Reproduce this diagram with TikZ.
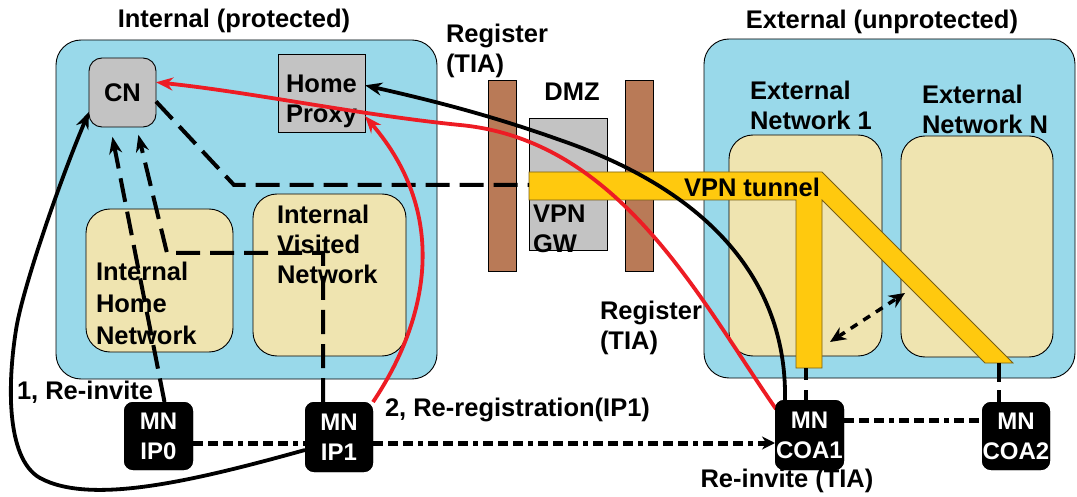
\documentclass[tikz,border=0pt]{standalone}
\usepackage{fontspec}
\setmainfont{Liberation Sans}
\usetikzlibrary{arrows.meta}

\definecolor{zoneblue}{RGB}{153,217,234}
\definecolor{netbeige}{RGB}{239,228,176}
\definecolor{wallbrown}{RGB}{185,122,87}
\definecolor{boxgray}{RGB}{195,195,195}
\definecolor{tunnelgold}{RGB}{255,201,14}
\definecolor{tunneledge}{RGB}{120,95,20}
\definecolor{sigred}{RGB}{237,28,36}

\begin{document}
\begin{tikzpicture}[x=1pt,y=-1pt,
  every node/.style={inner sep=0pt, outer sep=0pt},
  txt/.style={font=\fontsize{25.5}{30}\selectfont\bfseries, align=left},
  zone/.style={draw=black, line width=0.9pt, fill=zoneblue, rounded corners=25pt},
  net/.style={draw=black, line width=0.9pt, fill=netbeige, rounded corners=24pt},
  wall/.style={draw=black, line width=0.9pt, fill=wallbrown},
  graybox/.style={draw=black, line width=0.9pt, fill=boxgray},
  mn/.style={fill=black, rounded corners=9pt, text=white,
    font=\fontsize{24}{30}\selectfont\bfseries, align=center},
  dashln/.style={line width=4pt, dash pattern=on 24pt off 10pt},
  dotln/.style={line width=5pt,
    dash pattern=on 10pt off 5pt on 10pt off 5pt on 10pt off 5pt on 5pt off 5pt},
  tip/.style={-{Stealth[length=17pt,width=13pt]}},
  sigline/.style={line width=3.8pt},
]
% canvas
\useasboundingbox[fill=white] (0,0) rectangle (1077,497);

% protection zones
\node[zone, minimum width=381pt, minimum height=339pt] (internal) at (246.5,209.5) {};
\node[zone, minimum width=371pt, minimum height=339pt] (external) at (889.5,208.5) {};
\node[txt] (tInt) at (234,21) {Internal (protected)};
\node[txt] (tExt) at (882,22) {External (unprotected)};

% access networks
\node[net, minimum width=147pt, minimum height=143pt] (ihn) at (159.5,280.5) {};
\node[net, minimum width=153pt, minimum height=162pt] (ivn) at (329.5,275) {};
\node[net, minimum width=153pt, minimum height=221pt] (ext1) at (805.5,245.5) {};
\node[net, minimum width=152pt, minimum height=221pt] (extN) at (977,246.5) {};
\node[txt, anchor=west, font=\fontsize{25.5}{32}\selectfont\bfseries] (tIhn) at (96,303) {Internal\\Home\\Network};
\node[txt, anchor=west] (tIvn) at (277,244.5) {Internal\\Visited\\Network};
\node[txt, anchor=west] (tExt1) at (750,105) {External\\Network 1};
\node[txt, anchor=west] (tExtN) at (922,109.5) {External\\Network N};

% servers
\node[graybox, rounded corners=13pt, minimum width=67pt, minimum height=69pt,
  font=\fontsize{25.5}{30}\selectfont\bfseries] (cn) at (122.5,92.5) {CN};
\node[graybox, minimum width=87pt, minimum height=78pt] (hp) at (321.5,93) {};
\node[txt, align=center] (hpt) at (321.5,101) {Home\\Proxy};

% DMZ with its two firewalls and the VPN gateway
\node[wall, minimum width=28pt, minimum height=191pt] (wall1) at (502,175.5) {};
\node[wall, minimum width=28pt, minimum height=191pt] (wall2) at (639,175.5) {};
\node[graybox, minimum width=78pt, minimum height=132pt] (gw) at (568,184) {};
\node[txt, anchor=west] (tGw) at (533,229) {VPN\\GW};
\node[txt] (tDmz) at (572,92) {DMZ};
\node[txt, anchor=west] (tReg1) at (446,51) {Register\\(TIA)};

% VPN tunnel
\filldraw[fill=tunnelgold, draw=tunneledge, line width=0.8pt]
  (529,172) -- (822,172) -- (1013,363) -- (985,363) -- (822,200)
  -- (822,368) -- (796,368) -- (796,200) -- (529,200) -- cycle;
\coordinate (tunL) at (529,185);
\coordinate (tunA) at (806,368);
\coordinate (tunB) at (999,363);

% mobile node instances
\node[mn, minimum width=69pt, minimum height=68pt] (ip0) at (158.5,436) {MN\\IP0};
\node[mn, minimum width=68pt, minimum height=70pt] (ip1) at (339,437) {MN\\IP1};
\node[mn, minimum width=69pt, minimum height=70pt] (coa1) at (809.5,435) {MN\\COA1};
\node[mn, minimum width=68pt, minimum height=68pt] (coa2) at (1016,436) {MN\\COA2};

% media paths towards CN
\draw[dashln] (cn.-15) -- (234,185) -- (tunL);
\draw[dashln, tip, shorten >=10pt] ([xshift=6pt]ip0.north) -- ([xshift=-12pt]cn.south);
\draw[dashln, tip, shorten >=8pt] ([xshift=-16pt]ip1.north) -- (323,253) -- (167,253)
  -- ([xshift=14pt]cn.south);

% attachment of the care-of addresses to the tunnel
\draw[line width=3.5pt, dash pattern=on 12pt off 10pt on 20pt] (tunA) -- (tunA |- coa1.north);
\draw[line width=3.5pt, dash pattern=on 19pt off 8pt on 20pt] (tunB) -- (tunB |- coa2.north);

% handover between external networks
\coordinate (hoA) at (830,342);
\coordinate (hoB) at (905,293);
\draw[line width=3.5pt, dash pattern=on 8pt off 7pt,
  {Stealth[length=16pt,width=14pt]}-{Stealth[length=16pt,width=14pt]}] (hoA) -- (hoB);

% signalling
\draw[sigline, tip] ([yshift=-13pt]ip1.west)
  .. controls (190,482) and (90,505) .. (40,478)
  .. controls (5,458) and (8,380) .. (16,330)
  .. controls (22,290) and (60,180) .. (cn.210);
\draw[sigline, sigred, tip] (ip1.north east)
  .. controls (428,320) and (450,215) .. (hp.-28);
\draw[sigline, sigred, tip] ([xshift=1pt,yshift=-9pt]coa1.north west)
  .. controls (700,300) and (620,140) .. (460,125)
  .. controls (360,115) and (250,92) .. (cn.17);
\draw[sigline, tip] ([xshift=10pt]coa1.north west)
  .. controls (787,290) and (720,195) .. (560,140)
  .. controls (490,115) and (430,100) .. (hp.10);

% address change paths
\draw[dotln] (ip0.east |- 0,443) -- (ip1.west |- 0,443);
\draw[dotln, -{Stealth[length=13pt,width=13pt]}] (ip1.east |- 0,443) -- (coa1.west |- 0,443);
\draw[dotln] (coa1.east |- 0,420) -- (coa2.west |- 0,420);

% redraw mobile nodes above the line ends
\node[mn, minimum width=69pt, minimum height=68pt] at (ip0) {MN\\IP0};
\node[mn, minimum width=68pt, minimum height=70pt] at (ip1) {MN\\IP1};
\node[mn, minimum width=69pt, minimum height=70pt] at (coa1) {MN\\COA1};
\node[mn, minimum width=68pt, minimum height=68pt] at (coa2) {MN\\COA2};

% labels
\node[txt] (tTun) at (752,187) {VPN tunnel};
\node[txt, anchor=west] (tReg2) at (600,328) {Register\\(TIA)};
\node[txt] (tReinv) at (787,481) {Re-invite (TIA)};
\node[txt, anchor=west] (tL1) at (17,392) {1, Re-invite};
\node[txt, anchor=west] (tL2) at (385,410) {2, Re-registration(IP1)};
\end{tikzpicture}
\end{document}
